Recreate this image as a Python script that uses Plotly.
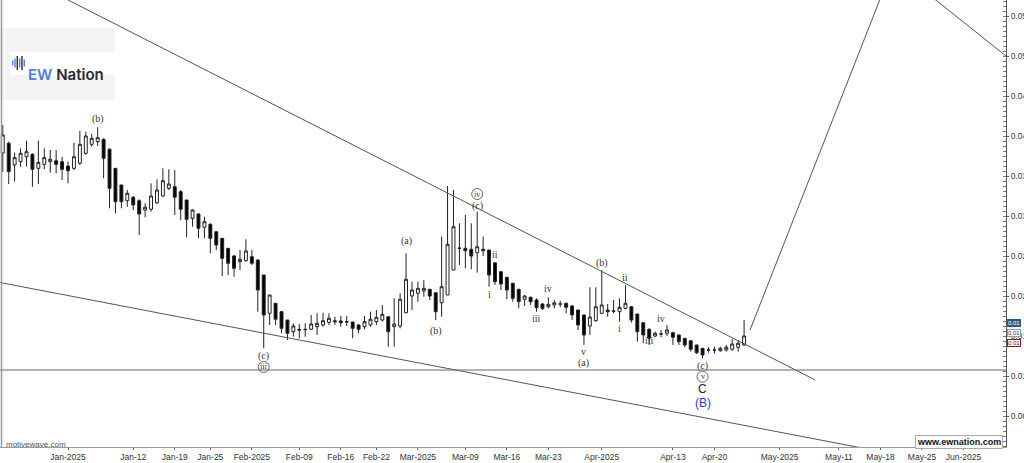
import pandas as pd
import plotly.graph_objects as go

# ---------------- data ----------------
dates = pd.date_range("2024-12-21", periods=126, freq="D")

open_ = [0.03788,0.03909,0.03638,0.03679,0.03741,0.03771,0.03596,0.03646,0.03679,0.03691,
         0.03679,0.03625,0.03596,0.03659,0.03784,0.03896,0.03929,0.03959,0.03834,0.03596,
         0.03388,0.03191,0.03234,0.03191,0.03075,0.03084,0.03166,0.03250,0.03346,0.03366,
         0.03304,0.03200,0.02971,0.03025,0.02859,0.02896,0.02804,0.02721,0.02596,0.02500,
         0.02429,0.02441,0.02491,0.02450,0.02263,0.01784,0.01909,0.01804,0.01700,0.01554,
         0.01584,0.01584,0.01584,0.01616,0.01638,0.01671,0.01691,0.01688,0.01679,0.01675,
         0.01638,0.01616,0.01638,0.01679,0.01700,0.01741,0.01616,0.01625,0.01791,0.02000,
         0.02034,0.02063,0.02084,0.02041,0.01916,0.02013,0.02325,0.02600,0.02596,0.02584,
         0.02541,0.02584,0.02575,0.02416,0.02304,0.02234,0.02159,0.02084,0.01959,0.01984,
         0.01950,0.01900,0.01866,0.01888,0.01900,0.01909,0.01875,0.01825,0.01763,0.01625,
         0.01691,0.01784,0.01825,0.01813,0.01804,0.01846,0.01866,0.01775,0.01666,0.01584,
         0.01500,0.01525,0.01534,0.01541,0.01513,0.01471,0.01441,0.01388,0.01346,0.01325,
         0.01325,0.01316,0.01325,0.01334,0.01359,0.01388]
high = [0.04138,0.03929,0.03791,0.03846,0.03941,0.03784,0.03941,0.03846,0.03825,0.03825,
        0.03741,0.03679,0.03916,0.04063,0.04054,0.04025,0.04109,0.03971,0.03846,0.03596,
        0.03388,0.03325,0.03250,0.03209,0.03159,0.03409,0.03459,0.03596,0.03584,0.03575,
        0.03325,0.03200,0.03084,0.03034,0.02991,0.02909,0.02804,0.02721,0.02596,0.02513,
        0.02575,0.02709,0.02575,0.02459,0.02263,0.02013,0.01909,0.01804,0.01700,0.01659,
        0.01650,0.01659,0.01763,0.01784,0.01791,0.01784,0.01741,0.01750,0.01750,0.01675,
        0.01650,0.01750,0.01804,0.01825,0.01888,0.01741,0.01971,0.02034,0.02534,0.02179,
        0.02179,0.02200,0.02084,0.02041,0.02741,0.03375,0.03325,0.02909,0.03013,0.02909,
        0.03054,0.02741,0.02575,0.02416,0.02304,0.02234,0.02159,0.02084,0.02013,0.01991,
        0.01971,0.01909,0.01984,0.01950,0.01941,0.01916,0.01888,0.01825,0.01763,0.02109,
        0.02109,0.02325,0.01900,0.01950,0.01971,0.02138,0.01866,0.01775,0.01666,0.01596,
        0.01554,0.01575,0.01638,0.01554,0.01513,0.01471,0.01441,0.01388,0.01346,0.01359,
        0.01366,0.01366,0.01388,0.01459,0.01450,0.01700]
low = [0.03550,0.03400,0.03429,0.03616,0.03616,0.03366,0.03400,0.03584,0.03541,0.03534,
       0.03450,0.03409,0.03575,0.03638,0.03763,0.03866,0.03875,0.03471,0.03096,0.03034,
       0.03096,0.03116,0.03075,0.02763,0.02984,0.03054,0.03150,0.03241,0.03325,0.03013,
       0.02950,0.02734,0.02866,0.02721,0.02721,0.02534,0.02575,0.02250,0.02263,0.02241,
       0.02325,0.02429,0.02388,0.01804,0.01346,0.01638,0.01638,0.01534,0.01450,0.01491,
       0.01471,0.01491,0.01575,0.01513,0.01616,0.01638,0.01638,0.01616,0.01625,0.01471,
       0.01534,0.01584,0.01616,0.01638,0.01679,0.01366,0.01366,0.01596,0.01784,0.01825,
       0.01929,0.01991,0.01950,0.01700,0.01741,0.02013,0.02325,0.02388,0.02346,0.02334,
       0.02291,0.02500,0.02116,0.02138,0.02075,0.01959,0.01929,0.01846,0.01875,0.01888,
       0.01804,0.01825,0.01846,0.01846,0.01859,0.01784,0.01700,0.01575,0.01388,0.01513,
       0.01679,0.01775,0.01741,0.01784,0.01679,0.01834,0.01666,0.01429,0.01409,0.01388,
       0.01484,0.01484,0.01500,0.01388,0.01388,0.01359,0.01304,0.01275,0.01221,0.01291,
       0.01284,0.01304,0.01304,0.01316,0.01304,0.01375]
close = [0.04013,0.03554,0.03729,0.03784,0.03804,0.03584,0.03671,0.03729,0.03709,0.03646,
         0.03584,0.03566,0.03741,0.03896,0.04000,0.03971,0.03979,0.03721,0.03346,0.03179,
         0.03179,0.03284,0.03138,0.03025,0.03109,0.03250,0.03325,0.03441,0.03400,0.03234,
         0.03084,0.02959,0.03075,0.02846,0.02929,0.02721,0.02638,0.02471,0.02409,0.02346,
         0.02459,0.02563,0.02409,0.02075,0.01763,0.02013,0.01709,0.01596,0.01534,0.01625,
         0.01575,0.01580,0.01650,0.01659,0.01691,0.01721,0.01679,0.01666,0.01675,0.01596,
         0.01584,0.01679,0.01709,0.01734,0.01771,0.01554,0.01650,0.01959,0.02209,0.02075,
         0.02096,0.02096,0.02000,0.01804,0.02116,0.02646,0.02866,0.02596,0.02566,0.02500,
         0.02616,0.02566,0.02263,0.02179,0.02150,0.02075,0.01971,0.01929,0.02000,0.01929,
         0.01854,0.01846,0.01896,0.01916,0.01900,0.01859,0.01763,0.01638,0.01513,0.01737,
         0.01866,0.01888,0.01804,0.01810,0.01859,0.01909,0.01700,0.01554,0.01513,0.01471,
         0.01534,0.01525,0.01575,0.01484,0.01429,0.01388,0.01334,0.01291,0.01263,0.01325,
         0.01325,0.01346,0.01359,0.01400,0.01409,0.01500]

# trendlines / levels
upper_line_x = ["2025-01-01", "2025-05-07"]
upper_line_y = [0.0570, 0.0095]
lower_line_x = ["2024-12-20 12:00", "2025-05-15 10:00"]
lower_line_y = [0.02169, 0.000925]
level_x = ["2024-12-20", "2025-06-09"]
level_y = [0.01075, 0.01075]
proj_x = ["2025-04-26", "2025-05-20 03:00", "2025-06-08 04:00"]
proj_y = [0.01575, 0.06125, 0.0500]

# wave labels (text, date, value)
wave_labels = [
    ("(b)", "2025-01-06", 0.04213),
    ("(c)", "2025-02-03", 0.01250),
    ("(a)", "2025-02-27", 0.02691),
    ("(b)", "2025-03-04", 0.01566),
    ("(c)", "2025-03-11", 0.03125),
    ("i", "2025-03-13", 0.02013),
    ("ii", "2025-03-14", 0.02513),
    ("iii", "2025-03-21", 0.01721),
    ("iv", "2025-03-23", 0.02096),
    ("v", "2025-03-29", 0.01304),
    ("(a)", "2025-03-29", 0.01159),
    ("(b)", "2025-04-01", 0.02416),
    ("i", "2025-04-04", 0.01596),
    ("ii", "2025-04-05", 0.02234),
    ("iii", "2025-04-09", 0.01450),
    ("iv", "2025-04-11", 0.01721),
    ("(c)", "2025-04-18", 0.01125),
]
circled_labels = [
    ("iii", "2025-02-03", 0.01113),
    ("iv", "2025-03-11", 0.03275),
    ("v", "2025-04-18", 0.00991),
]
big_labels = [
    ("C", "2025-04-18", 0.00841, "#222222"),
    ("(B)", "2025-04-18", 0.00663, "#1f3fe0"),
]

x_tick_vals = ["2025-01-01", "2025-01-12", "2025-01-19", "2025-01-25", "2025-02-01",
               "2025-02-09", "2025-02-16", "2025-02-22", "2025-03-01", "2025-03-09",
               "2025-03-16", "2025-03-23", "2025-04-01", "2025-04-13", "2025-04-20",
               "2025-05-01", "2025-05-11", "2025-05-18", "2025-05-25", "2025-06-01"]
x_tick_text = ["Jan-2025", "Jan-12", "Jan-19", "Jan-25", "Feb-2025", "Feb-09", "Feb-16",
               "Feb-22", "Mar-2025", "Mar-09", "Mar-16", "Mar-23", "Apr-2025", "Apr-13",
               "Apr-20", "May-2025", "May-11", "May-18", "May-25", "Jun-2025"]
y_tick_vals = [0.005, 0.010, 0.015, 0.020, 0.025, 0.030, 0.035, 0.040, 0.045, 0.050, 0.055]
# labels as displayed (the reference shows them cut to 4 characters)
y_tick_text = ["0.00", "0.01", "0.01", "0.02", "0.02", "0.03", "0.03", "0.04", "0.04",
               "0.05", "0.05"]

price_markers = [  # value, shown text, bg, border, font colour
    (0.0166, "0.01", "#2d5b86", "#2d5b86", "white"),
    (0.0154, "0.01", "white", "#9a9a9a", "#333333"),
    (0.0141, "0.01", "white", "#8b1a1a", "#333333"),
]

# ---------------- figure ----------------
W, H = 1024, 463
PL, PR, PT, PB = 0, 18, 0, 16
PW, PH = W - PL - PR, H - PT - PB


def px(x):
    return x / PW


def py(y):
    return 1 - y / PH


fig = go.Figure()

line_style = dict(color="#555555", width=1)
fig.add_trace(go.Scatter(x=upper_line_x, y=upper_line_y, mode="lines", line=line_style,
                         hoverinfo="skip", showlegend=False))
fig.add_trace(go.Scatter(x=lower_line_x, y=lower_line_y, mode="lines", line=line_style,
                         hoverinfo="skip", showlegend=False))
fig.add_trace(go.Scatter(x=level_x, y=level_y, mode="lines",
                         line=dict(color="#666666", width=1),
                         hoverinfo="skip", showlegend=False))
fig.add_trace(go.Scatter(x=proj_x, y=proj_y, mode="lines", line=line_style,
                         hoverinfo="skip", showlegend=False))

fig.add_trace(go.Candlestick(
    x=dates, open=open_, high=high, low=low, close=close,
    increasing=dict(line=dict(color="#222222", width=1), fillcolor="white"),
    decreasing=dict(line=dict(color="#222222", width=1), fillcolor="black"),
    whiskerwidth=0, showlegend=False,
))

annotations = []
serif = "Liberation Serif"
for t, d, v in wave_labels:
    annotations.append(dict(x=d, y=v, xref="x", yref="y", text=t, showarrow=False,
                            font=dict(family=serif, size=10, color="#333333")))
shapes = []
for t, d, v in circled_labels:
    annotations.append(dict(x=d, y=v, xref="x", yref="y", text=t, showarrow=False,
                            font=dict(family=serif, size=8, color="#333333")))
    shapes.append(dict(type="circle", xref="x", yref="y", xsizemode="pixel",
                       ysizemode="pixel", xanchor=d, yanchor=v, x0=-5.5, x1=5.5,
                       y0=-5.5, y1=5.5, line=dict(color="#444444", width=0.8)))
for t, d, v, c in big_labels:
    annotations.append(dict(x=d, y=v, xref="x", yref="y", text=t, showarrow=False,
                            font=dict(family="Liberation Sans", size=12, color=c)))

for v, t, bg, bc, fc in price_markers:
    annotations.append(dict(x=1, y=v, xref="paper", yref="y", text=t,
                            showarrow=False, xanchor="left", xshift=1, bgcolor=bg,
                            bordercolor=bc, borderwidth=1, borderpad=0,
                            font=dict(family="Liberation Sans", size=6, color=fc)))

# logo
shapes.append(dict(type="rect", xref="paper", yref="paper", x0=0, x1=px(115),
                   y0=py(100), y1=py(28), fillcolor="#f4f4f4", line=dict(width=0),
                   layer="below"))
shapes.append(dict(type="rect", xref="paper", yref="paper", x0=px(10), x1=px(115),
                   y0=py(75), y1=py(52), fillcolor="white", line=dict(width=0),
                   layer="below"))
for bx, hh, col in [(12.7, 2.5, "#4f7fe0"), (15.0, 4.5, "#4f7fe0"), (17.3, 7, "#2a2a35"),
                    (19.7, 4.5, "#4f7fe0"), (22.0, 7, "#2a2a35"), (24.3, 3.5, "#4f7fe0")]:
    shapes.append(dict(type="rect", xref="paper", yref="paper", x0=px(bx - 0.7),
                       x1=px(bx + 0.7), y0=py(63 + hh), y1=py(63 - hh),
                       fillcolor=col, line=dict(width=0)))
annotations.append(dict(x=px(25.5), y=py(63), xref="paper", yref="paper", xanchor="left",
                        text="<span style='color:#4f7fe0'>EW</span> Nation", showarrow=False,
                        font=dict(family="Inter", size=15, color="#2a2a35", weight=600)))

# left border
shapes.append(dict(type="line", xref="paper", yref="paper", x0=0.0015, x1=0.0015,
                   y0=0, y1=1, line=dict(color="#999999", width=1.5)))

annotations.append(dict(x=px(4), y=py(451), xref="paper", yref="paper", xanchor="left",
                        text="motivewave.com", showarrow=False,
                        font=dict(family="Liberation Sans", size=8, color="#555555")))
annotations.append(dict(x=px(1003), y=py(449), xref="paper", yref="paper", xanchor="right",
                        text="<b>www.ewnation.com</b>", showarrow=False, bgcolor="white",
                        bordercolor="#aaaaaa", borderwidth=1, borderpad=1,
                        font=dict(family="Liberation Sans", size=9, color="#111111")))

fig.update_layout(
    width=W, height=H,
    margin=dict(l=PL, r=PR, t=PT, b=PB, autoexpand=False),
    paper_bgcolor="white", plot_bgcolor="white",
    showlegend=False,
    annotations=annotations, shapes=shapes,
    xaxis=dict(type="date", range=["2024-12-20 12:45", "2025-06-08 04:00"],
               tickvals=x_tick_vals, ticktext=x_tick_text, ticks="outside", ticklen=2,
               tickcolor="#666666", showline=True, linecolor="#999999", linewidth=1,
               showgrid=False, zeroline=False, rangeslider=dict(visible=False),
               ticklabeloverflow="allow",
               tickfont=dict(family="Liberation Sans", size=8.5, color="#333333")),
    yaxis=dict(side="right", range=[0.001125, 0.057], tickvals=y_tick_vals,
               ticktext=y_tick_text, ticks="outside", ticklen=2, tickcolor="#555555",
               showline=True, linecolor="#555555", linewidth=1, showgrid=False,
               zeroline=False, automargin=False, ticklabeloverflow="allow",
               minor=dict(dtick=0.000625, ticks="inside", ticklen=3, tickcolor="#777777"),
               tickfont=dict(family="Liberation Sans", size=8.5, color="#333333")),
)

fig.write_html("out.html", config={"displayModeBar": False},
               post_script="document.body.style.margin='0';")
